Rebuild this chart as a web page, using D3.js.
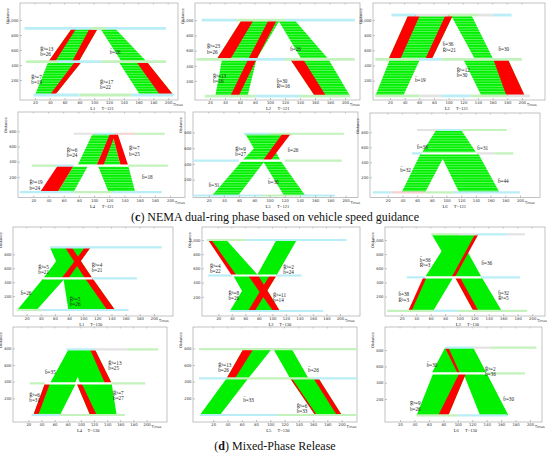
<!DOCTYPE html>
<html><head><meta charset="utf-8">
<script src="https://cdnjs.cloudflare.com/ajax/libs/d3/7.8.5/d3.min.js"></script>
<style>body{margin:0;background:#fff}svg{display:block}</style>
</head><body>
<svg id="c" width="550" height="453"></svg>
<script>
// ---------------- DATA ----------------
const linkNames = ["L1","L2","L3","L4","L5","L6","L1","L2","L3","L4","L5","L6"];
const cycleLabels = ["T=121","T=121","T=121","T=121","T=121","T=121","T=130","T=130","T=130","T=130","T=130","T=130"];
const xTickValues = [20,40,60,80,100,120,140,160,180,200];
const yTickSets = [
  [200,400,600,800,1000],[200,400,600,800,1000],[200,400,600,800,1000],
  [200,400,600,800],[200,400,600,800],[200,400,600,800],
  [200,400,600,800],[200,400,600,800,1000],[200,400,600,800,1000],
  [200,400,600,800],[200,400,600,800],[200,400,600,800]
];
// signal bars at intersections: [distance, tStart, tEnd, colourKey]
const signalBars = [
  [[889,6,197,'c'],[889,95,115,'g'],[444,8,50,'g'],[444,50,110,'c'],[444,110,197,'g'],[0,18,80,'c'],[0,80,150,'g'],[0,150,207,'c']],
  [[1000,9,55,'c'],[1000,55,120,'g'],[1000,120,213,'c'],[485,2,60,'g'],[485,60,120,'c'],[485,120,213,'g'],[0,13,80,'g'],[0,80,140,'c'],[0,140,207,'g']],
  [[1064,22,55,'c'],[1064,55,100,'k'],[1064,100,140,'g'],[1064,140,160,'k'],[1064,160,186,'c'],[481,0,60,'g'],[481,60,90,'c'],[481,90,200,'g'],[0,0,60,'g'],[0,60,90,'k'],[0,90,130,'c'],[0,130,180,'g'],[0,180,211,'k']],
  [[768,73,100,'k'],[768,100,128,'c'],[768,128,154,'p'],[768,154,193,'g'],[348,18,50,'g'],[348,50,73,'c'],[348,73,145,'w'],[348,145,197,'g'],[0,2,73,'c'],[0,73,124,'g'],[0,124,189,'c']],
  [[783,66,100,'c'],[783,100,198,'g'],[441,0,60,'c'],[441,60,120,'w'],[441,120,195,'g'],[0,0,90,'c'],[0,90,140,'g'],[0,140,186,'c']],
  [[831,60,86,'k'],[831,86,120,'c'],[831,120,182,'g'],[520,53,66,'c'],[520,66,141,'w'],[520,141,165,'k'],[520,165,191,'g'],[0,0,25,'c'],[0,25,70,'p'],[0,70,110,'g'],[0,110,200,'c']],
  [[902,53,211,'c'],[456,43,113,'w'],[456,113,176,'c'],[0,6,40,'g'],[0,40,164,'c']],
  [[1000,3,60,'g'],[1000,60,210,'c'],[500,5,40,'c'],[500,40,106,'w'],[500,106,143,'c'],[0,37,175,'c']],
  [[1079,61,96,'g'],[1079,96,125,'k'],[1079,125,165,'c'],[1079,165,190,'k'],[472,27,52,'c'],[472,52,130,'w'],[472,130,183,'c'],[0,0,64,'g'],[0,64,98,'c'],[0,98,193,'g']],
  [[788,78,120,'c'],[788,120,170,'k'],[788,170,218,'g'],[380,22,45,'g'],[380,45,147,'w'],[380,147,198,'g'],[0,25,68,'c'],[0,68,167,'g']],
  [[792,0,225,'g'],[440,0,40,'c'],[440,40,160,'g'],[440,160,225,'c'],[0,1,110,'c'],[0,110,225,'g']],
  [[830,82,121,'c'],[830,121,146,'k'],[830,146,209,'g'],[515,64,140,'w'],[515,140,193,'g'],[0,43,100,'g'],[0,100,168,'c']]
];
// bands: [dLow, dHigh, tLowStart, tLowEnd, tHighStart, tHighEnd]
const greenBands = [
  [[0,444,20,47,38,83],[444,889,38,79,70,105],[444,889,137,171,108,128],[0,444,162,207,133,171]],
  [[0,485,27,70,36,82],[485,1000,29,82,62,113],[485,1000,142,178,111,133],[0,485,160,207,127,178]],
  [[0,481,0,38,20,61],[481,1064,18,77,45,106],[481,1064,136,161,103,131],[0,481,145,204,120,181]],
  [[0,348,52,73,73,92],[348,768,78,103,98,121],[348,768,112,135,115,124],[0,348,119,154,105,145]],
  [[0,441,24.5,59,64,94],[0,441,119,147,91,114.5],[441,783,89,114.5,68,96],[441,783,64,94,98,128]],
  [[0,520,39,71,65,99],[0,520,117,172,91,143],[520,831,66,104,86,120],[520,831,104,141,86,120]],
  [[0,456,6.8,34.2,43.6,74.2],[0,456,79,145,72,113],[456,902,43.6,79,76.6,110.5],[456,902,72,113,53,83.7]],
  [[500,1000,42,79,5,32],[500,1000,77,106,106,136],[0,500,72,111,42,79],[0,500,37,74,69,106]],
  [[0,472,29.2,63.6,52.1,91.2],[0,472,118.8,157.9,93.5,130.3],[472,1079,52.1,91.2,89.8,125.7],[472,1079,96.3,130.3,61.3,97.6]],
  [[0,380,27.6,68.2,45.4,92.6],[0,380,113.8,154.4,93.5,146.8],[380,788,53,91,81,114],[380,788,98.6,146.8,81,121.4]],
  [[0,440,1.3,29.4,38.8,69.2],[440,792,38.8,69.2,62.2,102],[440,792,127.7,153.5,104.3,130.1],[0,440,162.8,200.2,127.7,167.5]],
  [[0,515,43,86.9,66,111.4],[0,515,130.8,170,107.7,140],[515,830,63.8,103,82.3,121.5],[515,830,100.7,140,82.3,121.5]]
];
const redBands = [
  [[0,444,40,47,74,83],[444,889,38,47,70,76],[444,889,70,79,94,105],[0,444,189,207,157,171]],
  [[0,485,47,58,71,82],[485,1000,29,47,62,78],[485,1000,71,82,98,109],[0,485,160,175,127,144]],
  [[481,1064,18,34,45,61],[481,1064,68,77,96,106],[0,481,179,204,161,181]],
  [[0,348,29,52,52,73],[348,768,103,112,121,128],[348,768,135,145,124,131]],
  [[441,783,91,101,117,128]],
  [],
  [[456,902,102.5,113,74.2,83.7],[0,456,134,145,102.5,113],[456,902,69.5,79,102.5,110.5]],
  [[500,1000,40,47,5,10],[0,500,101,111,64,79],[0,500,64,74,96,106]],
  [[0,472,29.2,33.7,49.8,54.4],[0,472,118.8,125.7,93.5,100.4],[472,1079,88.9,93.5,121.1,125.7]],
  [[0,380,27.6,35,45.4,53],[0,380,114,124,93.5,101],[380,788,136.7,146.8,114,121.4]],
  [[440,792,38.8,50.5,62.2,76.3],[0,440,162.8,165.2,127.7,130.1],[0,440,193.2,200.2,160.5,167.5]],
  [[0,515,73,86.9,102.1,111.4],[515,830,99.8,103,82.3,87]]
];
const R = "R\u0304\u1D47", B = "b\u0304";
// annotations: [t, d, line1, line2]
const annotations = [
  [[27,610,R+"=13",B+"=26"],[15,240,R+"=7",B+"=19"],[121,573,B+"=26"],[108,173,R+"=17",B+"=22"]],
  [[16,650,R+"=23",B+"=26"],[24,256,R+"=13",B+"=16"],[127,608,B+"=26"],[109,190,B+"=30",R+"=16"]],
  [[92,670,B+"=36",R+"=21"],[168,613,B+"=30"],[111,332,R+"=12",B+"=30"],[54,209,B+"=19"]],
  [[64,546,R+"=6",B+"=24"],[146,569,R+"=7",B+"=25"],[15,122,R+"=19",B+"=24"],[163,186,B+"=18"]],
  [[55,581,R+"=9",B+"=27"],[124,573,B+"=26"],[20,125,B+"=31"],[98,169,B+"=30"]],
  [[60,595,B+"=38"],[142,587,B+"=31"],[37,297,B+"=32"],[170,141,B+"=44"]],
  [[36.5,614,R+"=5",B+"=21"],[112,647,R+"=4",B+"=21"],[11.6,240,B+"=26"],[81,158,R+"=5",B+"=26"]],
  [[7.7,624,R+"=4",B+"=22"],[116,610,R+"=2",B+"=24"],[35,249,R+"=8",B+"=26"],[101,225,R+"=11",B+"=14"]],
  [[45,716,B+"=36",R+"=3"],[130,670,B+"=36"],[15.6,223,B+"=38",R+"=3"],[153,246,B+"=32",R+"=5"]],
  [[45.4,508,B+"=35"],[141.7,620,R+"=13",B+"=25"],[21.5,240,R+"=6",B+"=31"],[149,260,R+"=7",B+"=27"]],
  [[27,600,R+"=13",B+"=26"],[153,540,B+"=26"],[62,180,B+"=33"],[137,108,R+"=6",B+"=33"]],
  [[137.7,566,R+"=2",B+"=36"],[57,617,B+"=30"],[33.8,139,R+"=9",B+"=26"],[163,188,B+"=30"]]
];
const captions = ["(c) NEMA dual-ring phase based on vehicle speed guidance","(d) Mixed-Phase Release"];

// ---------------- LAYOUT ----------------
// f: frame [x0,y0,x1,y1]; x: px at t=0 and t=200; y: px at d=0 and d=800
const layout = [
  {f:[20,3,178,100], x:[20.2,168.2], y:[95,35]},
  {f:[195,3,360,100], x:[195,345], y:[96.2,35.4]},
  {f:[373,3,545,100], x:[375.3,521.9], y:[95.9,35.1]},
  {f:[18,112,185,197.5], x:[18.1,170.1], y:[192.1,131.3]},
  {f:[193,112,358,197.5], x:[193.5,345.5], y:[195.5,132.4]},
  {f:[370,113,540,197.5], x:[373,520], y:[192.3,132.3]},
  {f:[13,227,173,316], x:[12.5,153.9], y:[310,254.4]},
  {f:[202,227,360,316], x:[204.8,340], y:[311,254.2]},
  {f:[385,227,545,316], x:[387.2,532.2], y:[310.8,254.1]},
  {f:[13,327,167,422], x:[15.2,146.6], y:[415,348.4]},
  {f:[193,327,357,422], x:[199,341.6], y:[415,348.4]},
  {f:[385,327,542,422], x:[385.6,530], y:[415.3,350.1]}
];
const barColor = {c:'#b9eef6', g:'#c4f2bc', k:'#e3e3e3', p:'#f3d2d2', w:'#ffffff'};
const GREEN = '#00f000', RED = '#ff0000';

const svg = d3.select('#c');
const defs = svg.append('defs');
const pat = defs.append('pattern').attr('id','hatch').attr('patternUnits','userSpaceOnUse')
  .attr('width',4).attr('height',2.6);
pat.append('rect').attr('width',4).attr('height',2.6).attr('fill',GREEN);
pat.append('rect').attr('width',4).attr('height',0.6).attr('fill','#8dfb8d');

layout.forEach((L,i)=>{
  const [fx0,fy0,fx1,fy1] = L.f;
  const x = d3.scaleLinear().domain([0,200]).range(L.x);
  const y = d3.scaleLinear().domain([0,800]).range(L.y);
  const g = svg.append('g');
  const cid = 'clip'+i;
  defs.append('clipPath').attr('id',cid).append('rect')
    .attr('x',fx0).attr('y',fy0).attr('width',fx1-fx0).attr('height',fy1-fy0);
  const rowStriped = i < 6;

  g.append('rect').attr('x',fx0).attr('y',fy0).attr('width',fx1-fx0).attr('height',fy1-fy0)
    .attr('fill','#fff').attr('stroke','#a8a8a8').attr('stroke-width',0.7);

  const inner = g.append('g').attr('clip-path',`url(#${cid})`);
  const poly = b => [[x(b[2]),y(b[0])],[x(b[3]),y(b[0])],[x(b[5]),y(b[1])],[x(b[4]),y(b[1])]]
    .map(p=>p.join(',')).join(' ');

  inner.selectAll('polygon.gb').data(greenBands[i]).join('polygon').attr('class','gb')
    .attr('points',poly).attr('fill', rowStriped ? 'url(#hatch)' : GREEN);
  inner.selectAll('polygon.rb').data(redBands[i]).join('polygon').attr('class','rb')
    .attr('points',poly).attr('fill',RED);

  inner.selectAll('line.bar').data(signalBars[i]).join('line').attr('class','bar')
    .attr('x1',d=>x(Math.max(0,d[1]))).attr('x2',d=>x(d[2]))
    .attr('y1',d=>y(d[0])).attr('y2',d=>y(d[0]))
    .attr('stroke',d=>barColor[d[3]]).attr('stroke-width', i<3 ? 2.8 : 2.2);

  // annotations
  annotations[i].forEach(a=>{
    const t = g.append('text').attr('x',x(a[0])).attr('y',y(a[1])+1.5)
      .attr('font-family','Liberation Serif, DejaVu Serif, serif').attr('font-size',5.2).attr('fill','#222');
    t.append('tspan').attr('x',x(a[0])).text(a[2]);
    if (a[3]) t.append('tspan').attr('x',x(a[0])).attr('dy',5.2).text(a[3]);
  });

  // axes
  const xt = xTickValues.filter(v=>x(v) < fx1-2);
  const ax = g.append('g').attr('transform',`translate(0,${fy1})`)
    .call(d3.axisBottom(x).tickValues(xt).tickSize(-2).tickPadding(1.8));
  const ay = g.append('g').attr('transform',`translate(${fx0},0)`)
    .call(d3.axisLeft(y).tickValues(yTickSets[i]).tickSize(-2).tickPadding(1.5));
  [ax,ay].forEach(a=>{
    a.select('.domain').remove();
    a.selectAll('line').attr('stroke','#888').attr('stroke-width',0.5);
    a.selectAll('text').attr('font-size',3.8).attr('font-family','DejaVu Sans, sans-serif').attr('fill','#333');
  });
  g.selectAll('line.tt').data(xt).join('line').attr('class','tt')
    .attr('x1',d=>x(d)).attr('x2',d=>x(d)).attr('y1',fy0).attr('y2',fy0+1.5)
    .attr('stroke','#999').attr('stroke-width',0.5);

  g.append('text').attr('x',x(xt[xt.length-1])+5).attr('y',fy1+6)
    .attr('font-size',3.3).attr('font-family','DejaVu Sans, sans-serif').attr('fill','#333').text('Times');
  g.append('text').attr('transform',`translate(${fx0-11},${fy0+13}) rotate(-90)`)
    .attr('text-anchor','middle').attr('font-size',3.5).attr('font-family','DejaVu Sans, sans-serif')
    .attr('fill','#333').text('Distance');
  g.append('text').attr('x',x(98)).attr('y',fy1+10).attr('text-anchor','middle')
    .attr('font-size',4.5).attr('font-family','Liberation Serif, serif').attr('fill','#222').text(linkNames[i]);
  g.append('text').attr('x',x(110)).attr('y',fy1+10)
    .attr('font-size',4.5).attr('font-family','Liberation Serif, serif').attr('fill','#222').text(cycleLabels[i]);
});

// captions
const capY = [221, 450];
captions.forEach((c,k)=>{
  const t = svg.append('text').attr('x',275).attr('y',capY[k]).attr('text-anchor','middle')
    .attr('font-family','Liberation Serif, Times New Roman, serif').attr('font-size',12).attr('fill','#111');
  t.append('tspan').text('(');
  t.append('tspan').attr('font-weight','bold').text(c.charAt(1));
  t.append('tspan').text(c.slice(2));
});
</script>
</body></html>
